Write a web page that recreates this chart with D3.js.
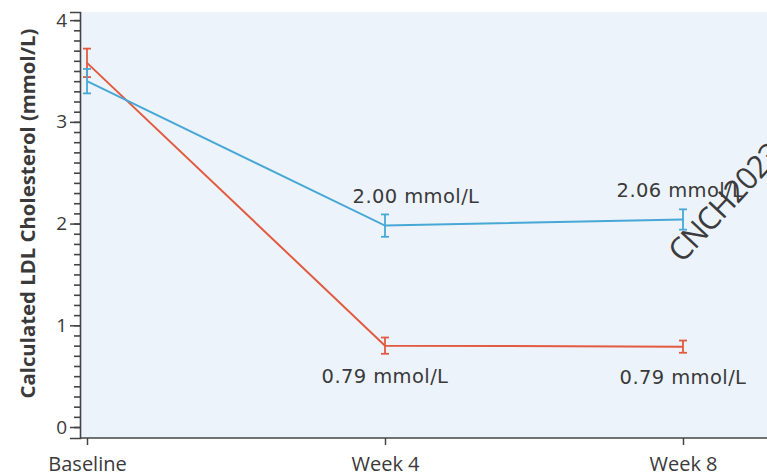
<!DOCTYPE html>
<html>
<head>
<meta charset="utf-8">
<script src="https://cdn.jsdelivr.net/npm/d3@7"></script>
<style>
  body { margin: 0; background: #fff; }
  text { font-family: "DejaVu Sans", "Noto Sans", sans-serif; fill: #3a3a3a; }
</style>
</head>
<body>
<div id="chart"></div>
<script>
let svgWidth = 767;
let svgHeight = 476;

// data
let timepoints = ["Baseline", "Week 4", "Week 8"];
let blueMean = [3.40, 1.98, 2.04];
let blueErr = [0.12, 0.11, 0.10];
let redMean = [3.58, 0.80, 0.79];
let redErr = [0.14, 0.08, 0.06];
let blueLabels = ["", "2.00 mmol/L", "2.06 mmol/L"];
let redLabels = ["", "0.79 mmol/L", "0.79 mmol/L"];
let yTicks = [0, 1, 2, 3, 4];
let yMinorTicks = d3.range(0, 41).map(d => d / 10);

let svg = d3.select("#chart")
  .append("svg")
  .attr("width", svgWidth)
  .attr("height", svgHeight);

let x = d3.scalePoint()
  .domain(timepoints)
  .range([87, 683]);

let y = d3.scaleLinear()
  .domain([-0.108, 4.08])
  .range([438, 12]);

// plot background
svg.append("rect")
  .attr("x", 80)
  .attr("y", 12)
  .attr("width", svgWidth - 80)
  .attr("height", 426)
  .attr("fill", "#edf3fb");

// minor ticks every 0.1
let minorG = svg.append("g")
  .attr("transform", "translate(80,0)")
  .call(d3.axisLeft(y).tickValues(yMinorTicks).tickSize(6).tickFormat(""));
minorG.select(".domain").remove();
minorG.selectAll(".tick line").attr("stroke", "#444").attr("stroke-width", 1.6);

// y axis
let yAxis = d3.axisLeft(y).tickValues(yTicks).tickSize(10).tickPadding(3).tickFormat(d3.format("d"));
let yg = svg.append("g")
  .attr("transform", "translate(80,0)")
  .call(yAxis);
yg.select(".domain").attr("stroke", "#444").attr("stroke-width", 1.6);
yg.selectAll(".tick line").attr("stroke", "#444").attr("stroke-width", 1.5);
yg.selectAll(".tick text")
  .style("font-family", "'Open Sans', sans-serif")
  .style("font-size", "19px")
  .attr("fill", "#3a3a3a");

// x axis
svg.append("line")
  .attr("x1", 80).attr("x2", svgWidth)
  .attr("y1", 438).attr("y2", 438)
  .attr("stroke", "#444").attr("stroke-width", 1.6);

let xg = svg.append("g")
  .attr("transform", "translate(0,438)")
  .call(d3.axisBottom(x).tickSize(7).tickPadding(12));
xg.select(".domain").remove();
xg.selectAll(".tick line").attr("stroke", "#444").attr("stroke-width", 1.5);
xg.selectAll(".tick text")
  .style("font-family", "'Open Sans', sans-serif")
  .style("font-size", "20px")
  .attr("fill", "#3a3a3a");

// y axis title
svg.append("text")
  .attr("transform", `translate(35, ${y(2) - 10}) rotate(-90)`)
  .attr("text-anchor", "middle")
  .attr("textLength", 370)
  .attr("lengthAdjust", "spacingAndGlyphs")
  .style("font-family", "'Open Sans', sans-serif")
  .style("font-size", "19px")
  .style("font-weight", "700")
  .text("Calculated LDL Cholesterol (mmol/L)");

// series
let series = [
  { mean: redMean, err: redErr, color: "#e25a3f" },
  { mean: blueMean, err: blueErr, color: "#47a8d6" }
];

let line = d3.line()
  .x((d, i) => x(timepoints[i]))
  .y(d => y(d));

series.forEach(function(s) {
  svg.append("path")
    .datum(s.mean)
    .attr("d", line)
    .attr("fill", "none")
    .attr("stroke", s.color)
    .attr("stroke-width", 2);

  let bars = svg.append("g").selectAll("g")
    .data(s.mean)
    .enter()
    .append("g")
    .attr("stroke", s.color)
    .attr("stroke-width", 1.8);

  bars.append("line")
    .attr("x1", (d, i) => x(timepoints[i]))
    .attr("x2", (d, i) => x(timepoints[i]))
    .attr("y1", (d, i) => y(d - s.err[i]))
    .attr("y2", (d, i) => y(d + s.err[i]));
  bars.append("line")
    .attr("x1", (d, i) => x(timepoints[i]) - 4)
    .attr("x2", (d, i) => x(timepoints[i]) + 4)
    .attr("y1", (d, i) => y(d - s.err[i]))
    .attr("y2", (d, i) => y(d - s.err[i]));
  bars.append("line")
    .attr("x1", (d, i) => x(timepoints[i]) - 4)
    .attr("x2", (d, i) => x(timepoints[i]) + 4)
    .attr("y1", (d, i) => y(d + s.err[i]))
    .attr("y2", (d, i) => y(d + s.err[i]));
});

// value labels
svg.append("g").selectAll("text")
  .data(blueLabels)
  .enter()
  .append("text")
  .attr("x", (d, i) => x(timepoints[i]) + (i === 1 ? 31 : -3))
  .attr("y", (d, i) => y(blueMean[i]) - 23)
  .attr("text-anchor", "middle")
  .style("font-size", "19.5px")
  .style("letter-spacing", "0.4px")
  .text(d => d);

svg.append("g").selectAll("text")
  .data(redLabels)
  .enter()
  .append("text")
  .attr("x", (d, i) => x(timepoints[i]))
  .attr("y", (d, i) => y(redMean[i]) + 37)
  .attr("text-anchor", "middle")
  .style("font-size", "19.5px")
  .style("letter-spacing", "0.4px")
  .text(d => d);

// watermark
svg.append("text")
  .attr("transform", "translate(682, 264) rotate(-47)")
  .style("font-family", "'Open Sans', sans-serif")
  .style("font-size", "31px")
  .style("font-weight", "500")
  .style("letter-spacing", "-1px")
  .style("fill", "#3c3c3c")
  .text("CNCH2023");
</script>
</body>
</html>
